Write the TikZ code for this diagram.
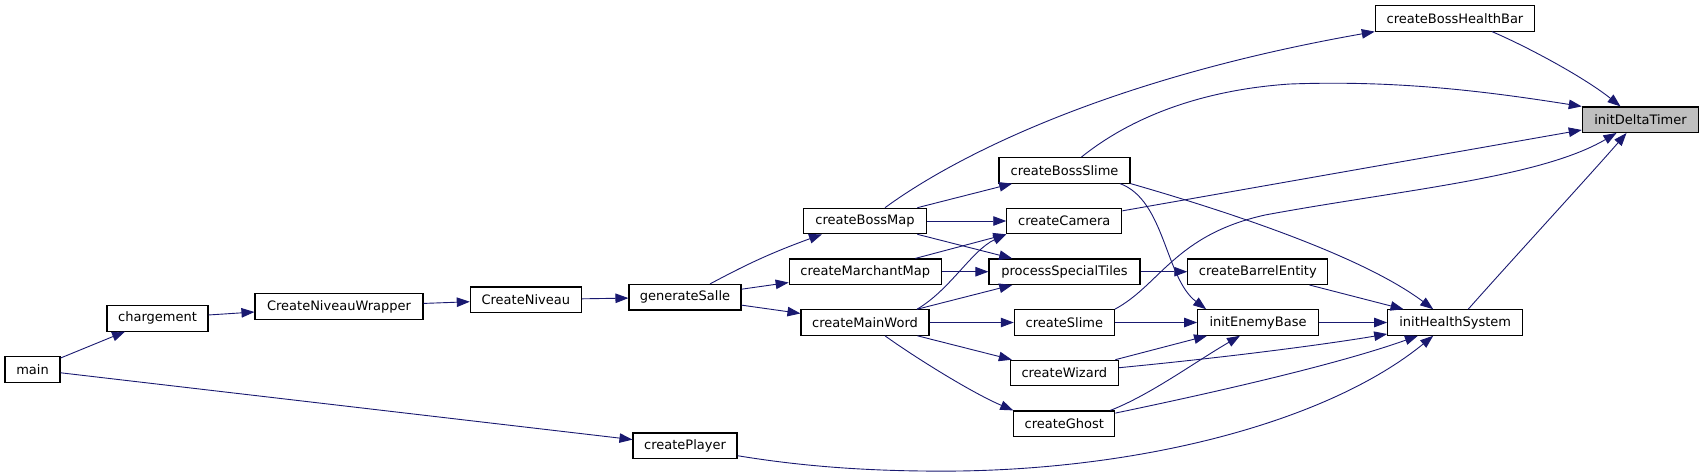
\documentclass[tikz,border=0pt]{standalone}
\usepackage{fontspec}
\setmainfont{DejaVu Sans}
\usetikzlibrary{arrows.meta}
\definecolor{edgeblue}{HTML}{191970}
\definecolor{rootgray}{HTML}{BFBFBF}
\tikzset{
  fn/.style={draw=black, line width=1.1pt, fill=white, minimum height=25.5pt,
    inner sep=0pt, font=\fontsize{13}{15}\selectfont},
  rootfn/.style={fn, fill=rootgray},
  call/.style={draw=edgeblue, line width=0.9pt, -{Triangle[length=13pt,width=9.5pt]}}
}
\begin{document}
\begin{tikzpicture}[x=1pt,y=-1pt]
\useasboundingbox (0,0) rectangle (1704,474);
% nodes
\node[fn, minimum width=55pt]    (main) at (32.5,369.5) {main};
\node[fn, minimum width=101pt]   (ch)   at (157.5,318.3) {chargement};
\node[fn, minimum width=168pt]   (cnw)  at (339,306.5) {CreateNiveauWrapper};
\node[fn, minimum width=111pt]   (cn)   at (525.8,299.7) {CreateNiveau};
\node[fn, minimum width=112pt]   (gs)   at (685,297.2) {generateSalle};
\node[fn, minimum width=123pt]   (bm)   at (865,221) {createBossMap};
\node[fn, minimum width=152pt]   (mm)   at (865.2,271.7) {createMarchantMap};
\node[fn, minimum width=128pt]   (mw)   at (865,322.5) {createMainWord};
\node[fn, minimum width=104pt]   (cp)   at (685,445.7) {createPlayer};
\node[fn, minimum width=131pt]   (bs)   at (1064.5,170.3) {createBossSlime};
\node[fn, minimum width=115pt]   (cam)  at (1064.3,221) {createCamera};
\node[fn, minimum width=151pt]   (pst)  at (1064.5,271.7) {processSpecialTiles};
\node[fn, minimum width=100pt]   (sl)   at (1064.3,322.5) {createSlime};
\node[fn, minimum width=108pt]   (wz)   at (1064.3,373) {createWizard};
\node[fn, minimum width=101pt]   (gh)   at (1064.3,423.7) {createGhost};
\node[fn, minimum width=140pt]   (be)   at (1257.8,271.7) {createBarrelEntity};
\node[fn, minimum width=120.6pt] (eb)   at (1258,322.5) {initEnemyBase};
\node[fn, minimum width=159.4pt] (bhb)  at (1455,18.3) {createBossHealthBar};
\node[fn, minimum width=135pt]   (ihs)  at (1455.2,322.5) {initHealthSystem};
\node[rootfn, minimum width=116.4pt] (idt) at (1640.5,119.7) {initDeltaTimer};
% straight edges
\draw[call] (main) -- (ch);
\draw[call] (main) -- (cp);
\draw[call] (ch) -- (cnw);
\draw[call] (cnw) -- (cn);
\draw[call] (cn) -- (gs);
\draw[call] (gs) -- (mm);
\draw[call] (gs) -- (mw);
\draw[call] (bm) -- (bs);
\draw[call] (bm) -- (cam);
\draw[call] (bm) -- (pst);
\draw[call] (mm) -- (cam.south west);
\draw[call] (mm) -- (pst);
\draw[call] (mw) -- (pst);
\draw[call] (mw) -- (sl);
\draw[call] (mw) -- (wz);
\draw[call] (cam) -- (idt);
\draw[call] (pst) -- (be);
\draw[call] (sl) -- (eb);
\draw[call] (wz) -- (eb);
\draw[call] (be) -- (ihs);
\draw[call] (eb) -- (ihs);
% curved edges
\draw[call] ([xshift=25pt]gs.north) .. controls (740,268) and (765,255) .. ([xshift=-43pt]bm.south);
\draw[call] ([xshift=20pt]bm.north) .. controls (950,160) and (1100,80) .. (bhb.south west);
\draw[call] ([xshift=52pt]mw.north) .. controls (950,290) and (972,250) .. (cam.south west);
\draw[call] ([xshift=20pt]mw.south) .. controls (910,354) and (970,392) .. (gh.north west);
\draw[call] ([xshift=17pt]bs.north) .. controls (1130,118) and (1200,90) .. (1290,84)
  .. controls (1400,80) and (1490,92) .. (idt.north west);
\draw[call] ([xshift=55.5pt]bs.south) .. controls (1165,200) and (1165,278) .. ([xshift=9pt]eb.north west);
\draw[call] (bs.south east) .. controls (1240,215) and (1365,258) .. ([xshift=-22pt]ihs.north);
\draw[call] (sl.north east) .. controls (1160,285) and (1175,235) .. (1265,215)
  .. controls (1400,190) and (1540,178) .. ([xshift=-24pt]idt.south);
\draw[call] (wz) .. controls (1250,355) and (1340,342) .. (ihs);
\draw[call] ([xshift=46pt]gh.north) .. controls (1150,395) and (1195,362) .. ([xshift=-18pt]eb.south);
\draw[call] (gh) .. controls (1250,385) and (1350,360) .. (ihs);
\draw[call] ([yshift=-10pt]cp.east) .. controls (800,466) and (870,472) .. (960,471)
  .. controls (1150,468) and (1330,420) .. ([xshift=-22pt]ihs.south);
\draw[call] ([xshift=13pt]ihs.north) .. controls (1510,262) and (1590,175) .. ([xshift=-14pt]idt.south);
\draw[call] ([xshift=37pt]bhb.south) .. controls (1530,48) and (1585,78) .. ([xshift=-20pt]idt.north);
\end{tikzpicture}
\end{document}
